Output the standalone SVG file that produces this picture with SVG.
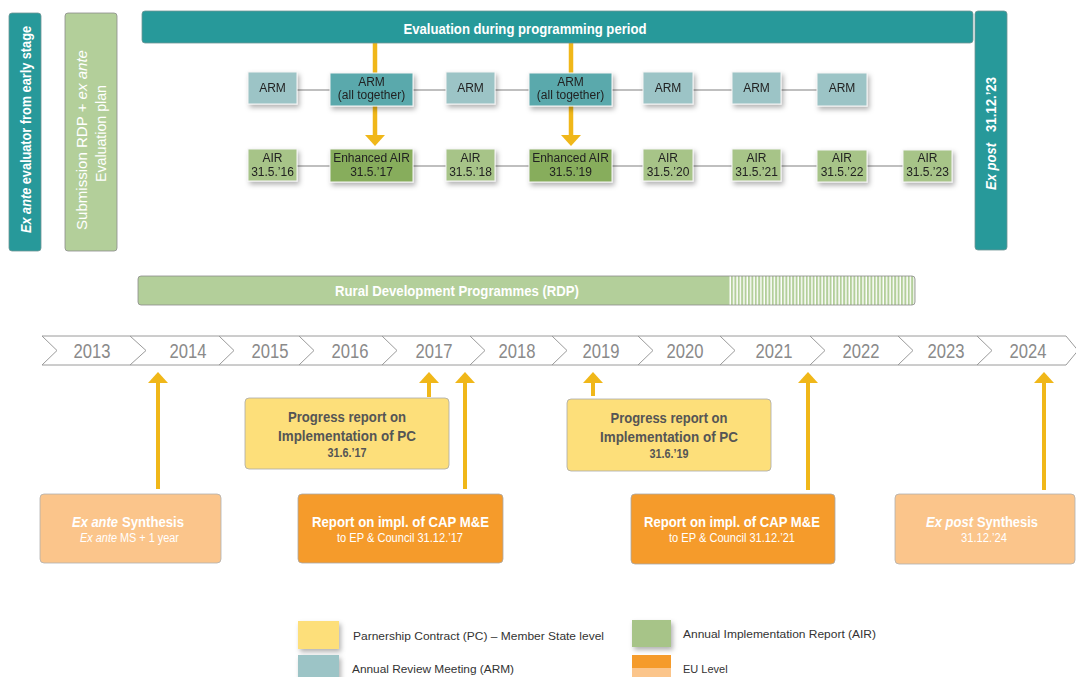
<svg xmlns="http://www.w3.org/2000/svg" width="1076" height="677" viewBox="0 0 1076 677">
<defs>
<style>
.teal{fill:#27999a;stroke:#6f9696;stroke-width:0.8}
.lg{fill:#b3cf9a;stroke:#8a8a8a;stroke-width:0.8}
.arm{fill:#9cc4c6;stroke:#f4f4f4;stroke-width:1}
.armt{fill:#5aa9ac;stroke:#f4f4f4;stroke-width:1}
.air{fill:#a7c488;stroke:#f4f4f4;stroke-width:1}
.eair{fill:#87ad5c;stroke:#f4f4f4;stroke-width:1}
.pc{fill:#fddf7a;stroke:#a8a8a8;stroke-width:0.8}
.eu{fill:#f59b2b;stroke:#a8a8a8;stroke-width:0.8}
.eul{fill:#fbc58b;stroke:#b0b0b0;stroke-width:0.8}
text{font-family:"Liberation Sans",Arial,sans-serif}
.wb{fill:#fff;font-weight:bold}
.wr{fill:#fff}
.nt{fill:#222;font-size:12px;text-anchor:middle}
.yr{fill:#8a8a8a;font-size:20px;text-anchor:middle}
.pt{fill:#555;font-weight:bold;text-anchor:middle}
.lt{fill:#333;font-size:11px}
.conn{stroke:#aaa;stroke-width:1.5;fill:none}
.ya{stroke:#f0b719;stroke-width:4.5;fill:none}
.chev{stroke:#9a9a9a;stroke-width:1;fill:none}
</style>
<filter id="sh" x="-20%" y="-20%" width="150%" height="160%">
<feDropShadow dx="2" dy="3" stdDeviation="2.5" flood-color="#000" flood-opacity="0.3"/>
</filter>
<marker id="ah" viewBox="0 -10 11 20" refX="0" refY="0" markerWidth="11" markerHeight="20" markerUnits="userSpaceOnUse" orient="auto">
<path d="M0,-10 L11,0 L0,10 z" fill="#f0b719"/>
</marker>
<pattern id="stripes" x="0" y="0" width="3.4" height="10" patternUnits="userSpaceOnUse">
<rect x="0" y="0" width="3.4" height="10" fill="#fff"/>
<rect x="0" y="0" width="2" height="10" fill="#b3cf9a"/>
</pattern>
<clipPath id="rdpclip"><rect x="138" y="276" width="777" height="29" rx="3"/></clipPath>
</defs>

<g id="connectors">
<line class="conn" x1="250" y1="90" x2="865" y2="90"/>
<line class="conn" x1="250" y1="166" x2="950" y2="166"/>
<line class="ya" x1="375" y1="43" x2="375" y2="73"/>
<line class="ya" x1="571" y1="43" x2="571" y2="73"/>
<line class="ya" x1="375" y1="106" x2="375" y2="135" marker-end="url(#ah)"/>
<line class="ya" x1="571" y1="106" x2="571" y2="135" marker-end="url(#ah)"/>
<line class="ya" x1="158" y1="489" x2="158" y2="383" marker-end="url(#ah)" style="stroke-width:4"/>
<line class="ya" x1="429" y1="397" x2="429" y2="383" marker-end="url(#ah)" style="stroke-width:4"/>
<line class="ya" x1="465" y1="489" x2="465" y2="383" marker-end="url(#ah)" style="stroke-width:4"/>
<line class="ya" x1="593" y1="396" x2="593" y2="383" marker-end="url(#ah)" style="stroke-width:4"/>
<line class="ya" x1="808" y1="490" x2="808" y2="383" marker-end="url(#ah)" style="stroke-width:4"/>
<line class="ya" x1="1044" y1="490" x2="1044" y2="383" marker-end="url(#ah)" style="stroke-width:4"/>
</g>

<g id="ex-ante-evaluator">
<rect class="teal" x="9" y="13" width="32" height="238" rx="3"/>
<text class="wb" font-size="14" text-anchor="middle" transform="translate(30.5,129.5) rotate(-90)" textLength="207" lengthAdjust="spacingAndGlyphs"><tspan font-style="italic">Ex ante</tspan> evaluator from early stage</text>
</g>

<g id="submission-rdp">
<rect class="lg" x="65" y="13" width="52" height="238" rx="3"/>
<text class="wr" font-size="14" text-anchor="middle" transform="translate(87.3,140) rotate(-90)" textLength="180" lengthAdjust="spacingAndGlyphs">Submission RDP + <tspan font-style="italic">ex ante</tspan></text>
<text class="wr" font-size="14" text-anchor="middle" transform="translate(106,133.5) rotate(-90)" textLength="97" lengthAdjust="spacingAndGlyphs">Evaluation plan</text>
</g>

<g id="evaluation-bar">
<rect class="teal" x="142" y="11" width="831" height="32" rx="3"/>
<text class="wb" font-size="15" text-anchor="middle" x="525" y="34" textLength="243" lengthAdjust="spacingAndGlyphs">Evaluation during programming period</text>
</g>

<g id="ex-post">
<rect class="teal" x="975" y="11" width="32" height="239" rx="3"/>
<text class="wb" font-size="15" text-anchor="middle" font-style="italic" transform="translate(995.5,166.5) rotate(-90)" textLength="47" lengthAdjust="spacingAndGlyphs">Ex post</text>
<text class="wb" font-size="15" text-anchor="middle" transform="translate(995.5,104.5) rotate(-90)" textLength="55" lengthAdjust="spacingAndGlyphs">31.12.’23</text>
</g>

<g id="arm-1" filter="url(#sh)"><rect class="arm" x="248" y="72" width="49" height="32"/><text class="nt" x="272.5" y="92">ARM</text></g>
<g id="arm-2" filter="url(#sh)"><rect class="armt" x="330" y="73" width="83" height="33"/><text class="nt" x="371.5" y="86">ARM</text><text class="nt" x="371.5" y="99">(all together)</text></g>
<g id="arm-3" filter="url(#sh)"><rect class="arm" x="446" y="72" width="49" height="32"/><text class="nt" x="470.5" y="92">ARM</text></g>
<g id="arm-4" filter="url(#sh)"><rect class="armt" x="529" y="73" width="83" height="33"/><text class="nt" x="570.5" y="86">ARM</text><text class="nt" x="570.5" y="99">(all together)</text></g>
<g id="arm-5" filter="url(#sh)"><rect class="arm" x="643" y="72" width="50" height="32"/><text class="nt" x="668" y="92">ARM</text></g>
<g id="arm-6" filter="url(#sh)"><rect class="arm" x="732" y="72" width="49" height="32"/><text class="nt" x="756.5" y="92">ARM</text></g>
<g id="arm-7" filter="url(#sh)"><rect class="arm" x="817" y="73" width="50" height="33"/><text class="nt" x="842" y="92">ARM</text></g>

<g id="air-16" filter="url(#sh)"><rect class="air" x="248" y="149" width="49" height="32"/><text class="nt" x="272.5" y="162">AIR</text><text class="nt" x="272.5" y="176">31.5.’16</text></g>
<g id="air-17" filter="url(#sh)"><rect class="eair" x="330" y="149" width="83" height="33"/><text class="nt" x="371.5" y="162">Enhanced AIR</text><text class="nt" x="371.5" y="176">31.5.’17</text></g>
<g id="air-18" filter="url(#sh)"><rect class="air" x="446" y="149" width="49" height="32"/><text class="nt" x="470.5" y="162">AIR</text><text class="nt" x="470.5" y="176">31.5.’18</text></g>
<g id="air-19" filter="url(#sh)"><rect class="eair" x="529" y="149" width="83" height="33"/><text class="nt" x="570.5" y="162">Enhanced AIR</text><text class="nt" x="570.5" y="176">31.5.’19</text></g>
<g id="air-20" filter="url(#sh)"><rect class="air" x="643" y="149" width="50" height="32"/><text class="nt" x="668" y="162">AIR</text><text class="nt" x="668" y="176">31.5.’20</text></g>
<g id="air-21" filter="url(#sh)"><rect class="air" x="732" y="149" width="49" height="32"/><text class="nt" x="756.5" y="162">AIR</text><text class="nt" x="756.5" y="176">31.5.’21</text></g>
<g id="air-22" filter="url(#sh)"><rect class="air" x="817" y="150" width="50" height="32"/><text class="nt" x="842" y="162">AIR</text><text class="nt" x="842" y="176">31.5.’22</text></g>
<g id="air-23" filter="url(#sh)"><rect class="air" x="903" y="150" width="49" height="32"/><text class="nt" x="927.5" y="162">AIR</text><text class="nt" x="927.5" y="176">31.5.’23</text></g>

<g id="rdp-bar">
<g clip-path="url(#rdpclip)">
<rect x="138" y="276" width="590" height="29" fill="#b3cf9a"/>
<rect x="728" y="276" width="187" height="29" fill="url(#stripes)"/>
</g>
<rect x="138" y="276" width="777" height="29" rx="3" fill="none" stroke="#8a8a8a" stroke-width="0.8"/>
<text class="wb" font-size="14" text-anchor="middle" x="457" y="295.5" textLength="244" lengthAdjust="spacingAndGlyphs">Rural Development Programmes (RDP)</text>
</g>

<g id="timeline">
<line class="chev" x1="42" y1="336" x2="1066" y2="336"/>
<line class="chev" x1="42" y1="365" x2="1066" y2="365"/>
<path class="chev" d="M42,336 L57,350.5 L42,365 M130,336 L146,350.5 L130,365 M219,336 L234,350.5 L219,365 M299,336 L314,350.5 L299,365 M382,336 L397,350.5 L382,365 M470,336 L485,350.5 L470,365 M552,336 L567,350.5 L552,365 M638,336 L653,350.5 L638,365 M720,336 L735,350.5 L720,365 M810,336 L825,350.5 L810,365 M898,336 L913,350.5 L898,365 M977,336 L992,350.5 L977,365 M1066,336 L1078,350.5 L1066,365"/>
<text class="yr" x="92" y="358" textLength="37" lengthAdjust="spacingAndGlyphs">2013</text>
<text class="yr" x="188" y="358" textLength="37" lengthAdjust="spacingAndGlyphs">2014</text>
<text class="yr" x="270" y="358" textLength="37" lengthAdjust="spacingAndGlyphs">2015</text>
<text class="yr" x="350" y="358" textLength="37" lengthAdjust="spacingAndGlyphs">2016</text>
<text class="yr" x="434" y="358" textLength="37" lengthAdjust="spacingAndGlyphs">2017</text>
<text class="yr" x="517" y="358" textLength="37" lengthAdjust="spacingAndGlyphs">2018</text>
<text class="yr" x="601" y="358" textLength="37" lengthAdjust="spacingAndGlyphs">2019</text>
<text class="yr" x="685" y="358" textLength="37" lengthAdjust="spacingAndGlyphs">2020</text>
<text class="yr" x="774" y="358" textLength="37" lengthAdjust="spacingAndGlyphs">2021</text>
<text class="yr" x="861" y="358" textLength="37" lengthAdjust="spacingAndGlyphs">2022</text>
<text class="yr" x="946" y="358" textLength="37" lengthAdjust="spacingAndGlyphs">2023</text>
<text class="yr" x="1028" y="358" textLength="37" lengthAdjust="spacingAndGlyphs">2024</text>
</g>

<g id="progress-17">
<rect class="pc" x="245" y="398" width="204" height="71" rx="4"/>
<text class="pt" font-size="15" x="347" y="422" textLength="118" lengthAdjust="spacingAndGlyphs">Progress report on</text>
<text class="pt" font-size="15" x="347" y="441" textLength="138" lengthAdjust="spacingAndGlyphs">Implementation of PC</text>
<text class="pt" font-size="12" x="347" y="457" textLength="39" lengthAdjust="spacingAndGlyphs">31.6.’17</text>
</g>

<g id="progress-19">
<rect class="pc" x="567" y="399" width="204" height="72" rx="4"/>
<text class="pt" font-size="15" x="669" y="423" textLength="117" lengthAdjust="spacingAndGlyphs">Progress report on</text>
<text class="pt" font-size="15" x="669" y="442" textLength="138" lengthAdjust="spacingAndGlyphs">Implementation of PC</text>
<text class="pt" font-size="12" x="669" y="458" textLength="39" lengthAdjust="spacingAndGlyphs">31.6.’19</text>
</g>

<g id="ex-ante-synthesis">
<rect class="eul" x="40" y="494" width="181" height="69" rx="4"/>
<text class="wb" font-size="15" font-style="italic" x="72" y="527" textLength="46" lengthAdjust="spacingAndGlyphs">Ex ante</text>
<text class="wb" font-size="15" x="122" y="527" textLength="62" lengthAdjust="spacingAndGlyphs">Synthesis</text>
<text class="wr" font-size="12" font-style="italic" x="80" y="542" textLength="37" lengthAdjust="spacingAndGlyphs">Ex ante</text>
<text class="wr" font-size="12" x="120" y="542" textLength="59" lengthAdjust="spacingAndGlyphs">MS + 1 year</text>
</g>

<g id="report-17">
<rect class="eu" x="298" y="494" width="205" height="69" rx="4"/>
<text class="wb" font-size="15" text-anchor="middle" x="400.5" y="527" textLength="177" lengthAdjust="spacingAndGlyphs">Report on impl. of CAP M&amp;E</text>
<text class="wr" font-size="12" text-anchor="middle" x="400" y="542" textLength="126" lengthAdjust="spacingAndGlyphs">to EP &amp; Council 31.12.’17</text>
</g>

<g id="report-21">
<rect class="eu" x="631" y="494" width="204" height="70" rx="4"/>
<text class="wb" font-size="15" text-anchor="middle" x="732" y="527" textLength="176" lengthAdjust="spacingAndGlyphs">Report on impl. of CAP M&amp;E</text>
<text class="wr" font-size="12" text-anchor="middle" x="732" y="542" textLength="126" lengthAdjust="spacingAndGlyphs">to EP &amp; Council 31.12.’21</text>
</g>

<g id="ex-post-synthesis">
<rect class="eul" x="895" y="494" width="180" height="70" rx="4"/>
<text class="wb" font-size="15" font-style="italic" x="926" y="527" textLength="47" lengthAdjust="spacingAndGlyphs">Ex post</text>
<text class="wb" font-size="15" x="977" y="527" textLength="61" lengthAdjust="spacingAndGlyphs">Synthesis</text>
<text class="wr" font-size="12" text-anchor="middle" x="984" y="542" textLength="46" lengthAdjust="spacingAndGlyphs">31.12.’24</text>
</g>

<g id="legend">
<rect x="298" y="621" width="41" height="28" fill="#fddf7a" filter="url(#sh)"/>
<text class="lt" x="353" y="640" textLength="251" lengthAdjust="spacingAndGlyphs">Parnership Contract (PC) – Member State level</text>
<rect x="298" y="655" width="41" height="24" fill="#9cc4c6" filter="url(#sh)"/>
<text class="lt" x="352" y="673" textLength="162" lengthAdjust="spacingAndGlyphs">Annual Review Meeting (ARM)</text>
<rect x="632" y="620" width="39" height="27" fill="#a7c488" filter="url(#sh)"/>
<text class="lt" x="683" y="638" textLength="193" lengthAdjust="spacingAndGlyphs">Annual Implementation Report (AIR)</text>
<rect x="632" y="655" width="39" height="13" fill="#f59b2b"/>
<rect x="632" y="668" width="39" height="11" fill="#fbc58b"/>
<text class="lt" x="683" y="673">EU Level</text>
</g>
</svg>
